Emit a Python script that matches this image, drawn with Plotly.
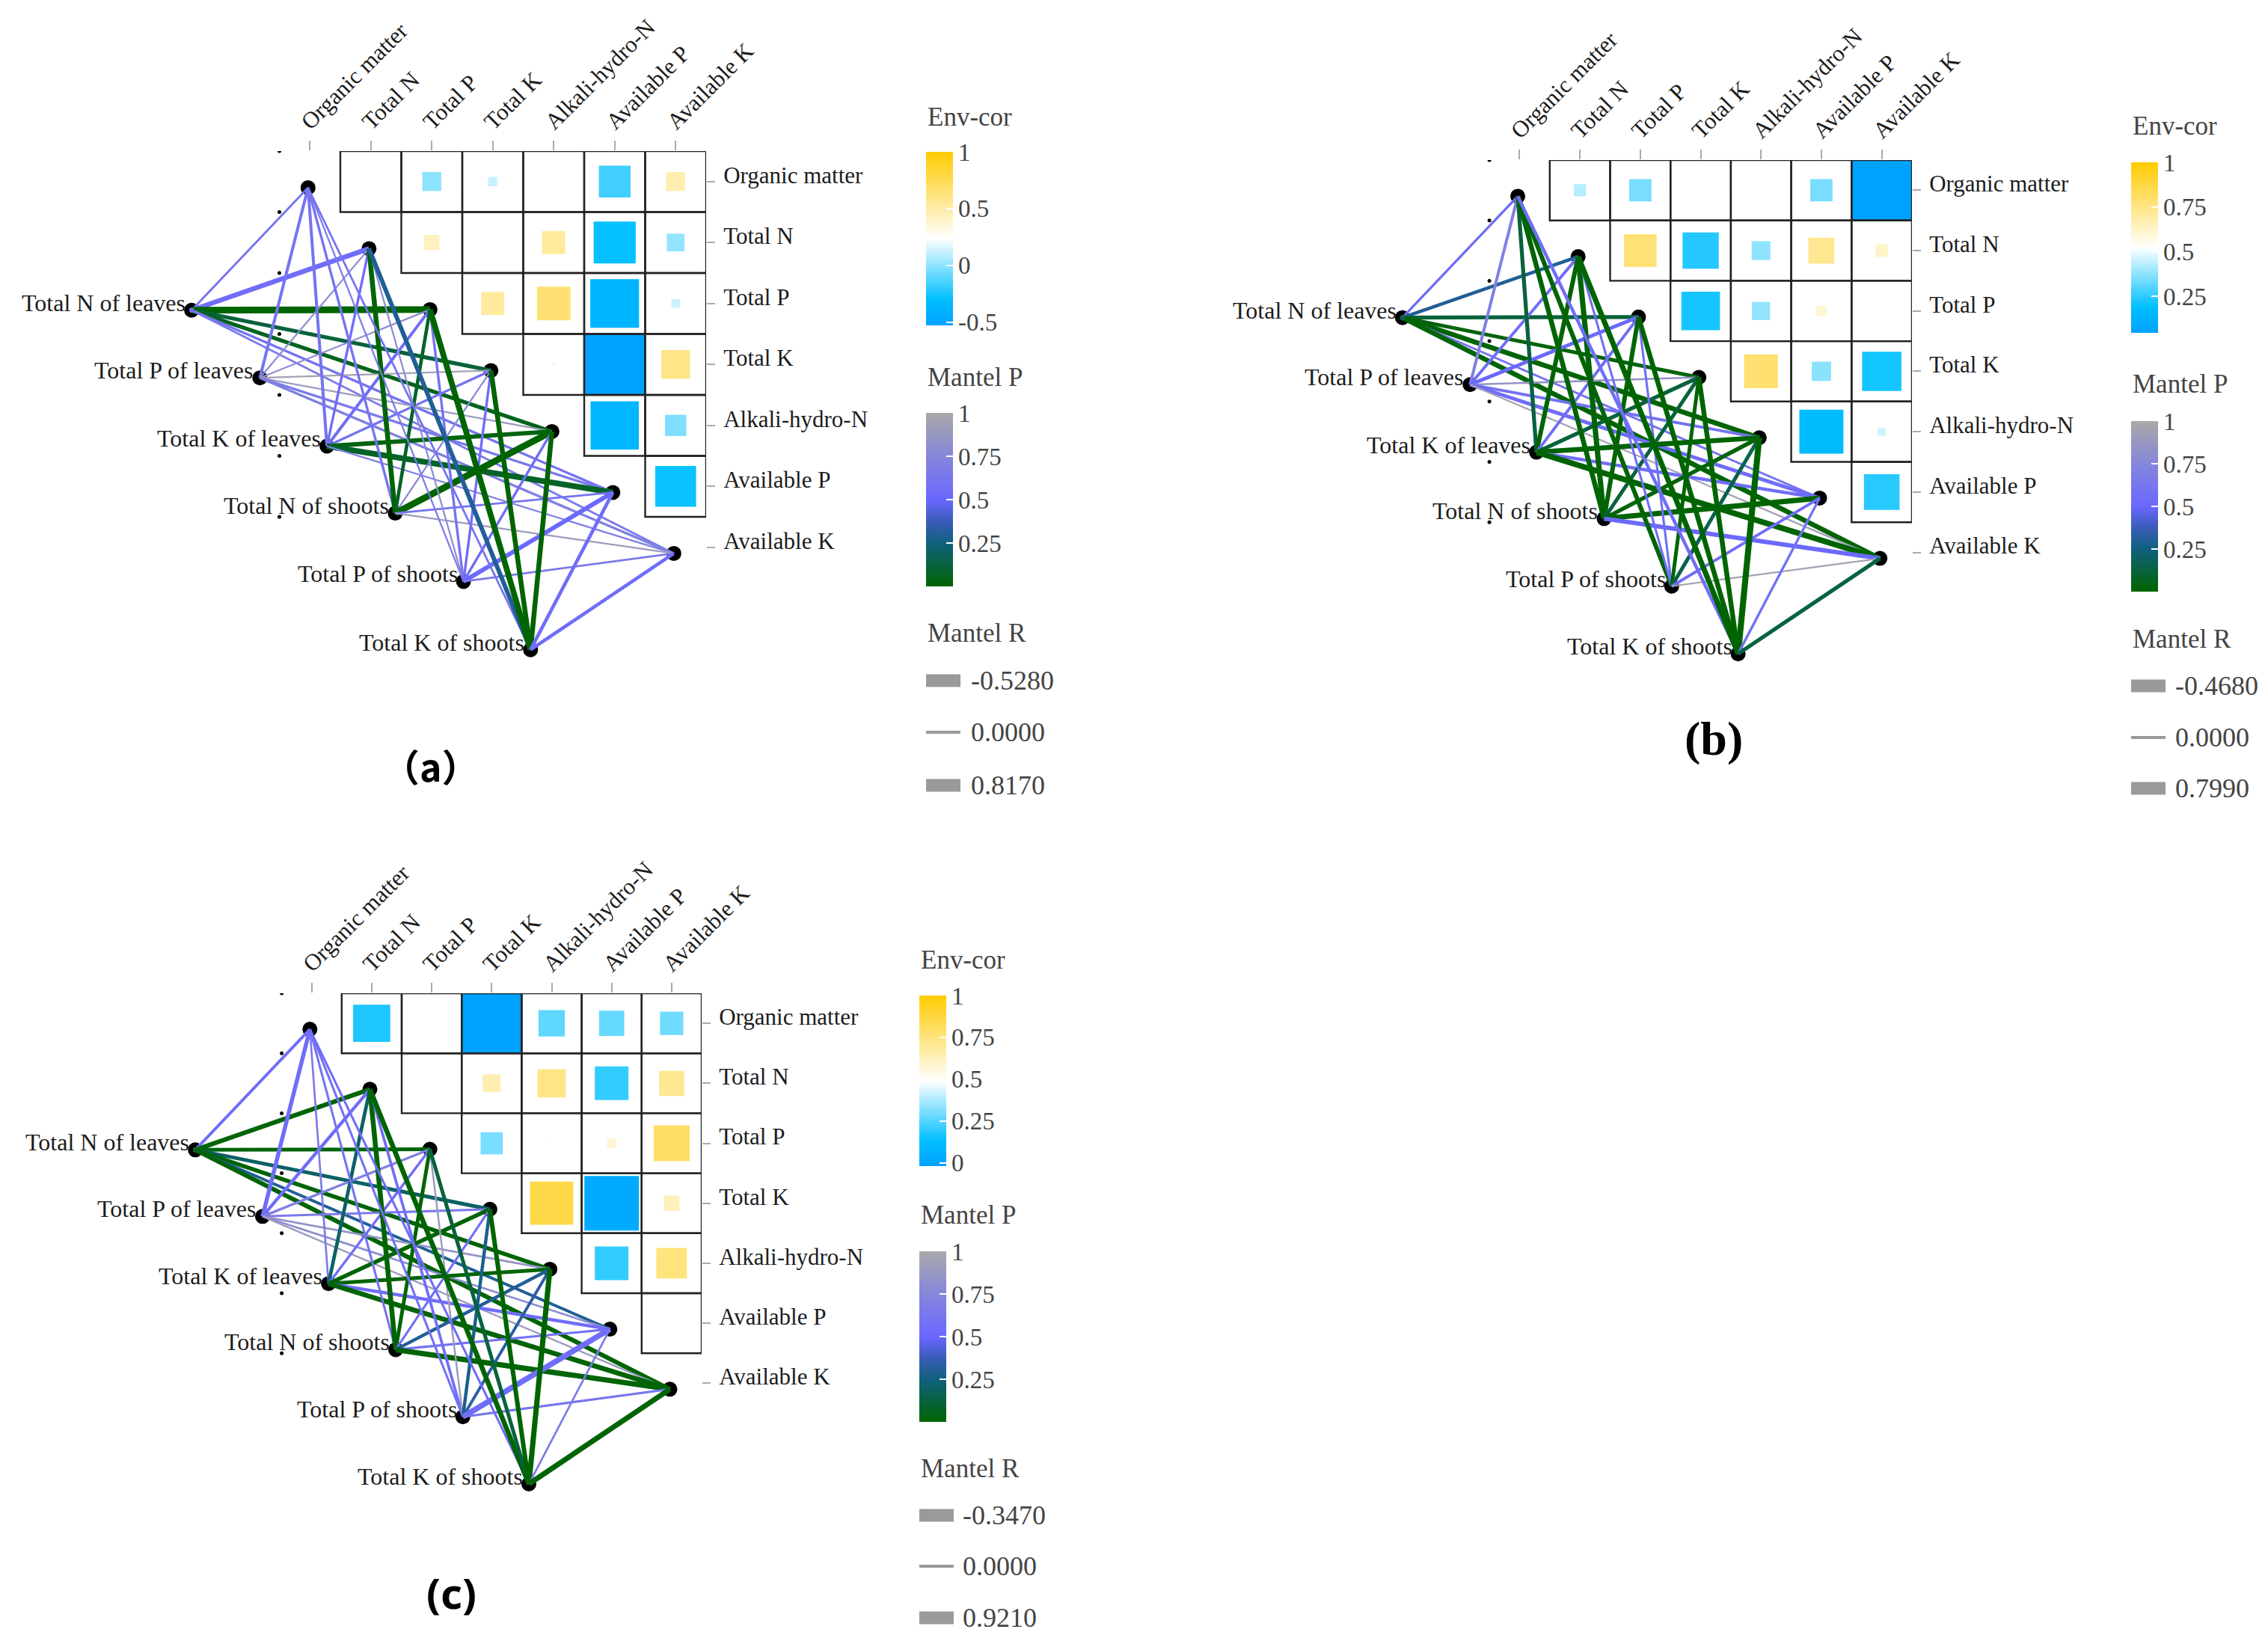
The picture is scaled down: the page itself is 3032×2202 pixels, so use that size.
import plotly.graph_objects as go
from plotly.colors import sample_colorscale

W, H = 3032, 2202
SERIF = "Liberation Serif"

soil_labels = ["Organic matter", "Total N", "Total P", "Total K", "Alkali-hydro-N", "Available P", "Available K"]
plant_labels = ["Total N of leaves", "Total P of leaves", "Total K of leaves",
                "Total N of shoots", "Total P of shoots", "Total K of shoots"]

# Env-cor upper triangle, row by row
env_a = [[.259, -.001, .121, .228, -.161, .473],
         [.427, .251, .526, -.291, .014],
         [.526, .656, -.375, .129],
         [.198, -.528, .595],
         [-.368, -.031],
         [-.276]]
env_b = [[.427, .346, .52, .52, .346, .045],
         [.78, .236, .374, .728, .623],
         [.217, .379, .604, .52],
         [.79, .37, .212],
         [.174, .46],
         [.241]]
env_c = [[.174, .49, -.02, .266, .276, .291],
         [.49, .643, .73, .204, .704],
         [.301, .475, .572, .796],
         [.857, .026, .623],
         [.204, .75],
         [.49]]

# Mantel P: plant row, soil column
p_a = [[.60, .55, .00, .12, .06, .60, .65],
       [.60, .80, .80, .95, .90, .65, .70],
       [.60, .55, .55, .60, .03, .08, .70],
       [.60, .01, .08, .75, .00, .60, .90],
       [.65, .80, .60, .55, .55, .52, .65],
       [.60, .30, .00, .00, .00, .55, .55]]
r_a = [[.10, .45, .68, .33, .33, .15, .09],
       [.21, .04, .04, .04, .04, .15, .15],
       [.21, .15, .21, .15, .39, .56, .04],
       [.15, .45, .27, .04, .68, .09, .04],
       [.04, .04, .15, .15, .15, .39, .09],
       [.09, .39, .56, .45, .45, .27, .27]]
p_b = [[.55, .30, .12, .02, .01, .60, .01],
       [.70, .55, .52, .85, .60, .55, .95],
       [.12, .01, .55, .12, .00, .55, .00],
       [.01, .01, .01, .12, .02, .00, .52],
       [.01, .55, .55, .00, .15, .55, .95],
       [.55, .00, .00, .00, .00, .58, .13]]
r_b = [[.15, .27, .33, .30, .45, .10, .45],
       [.21, .20, .30, .08, .20, .30, .04],
       [.33, .40, .20, .33, .45, .25, .55],
       [.45, .50, .40, .30, .35, .50, .40],
       [.40, .12, .12, .30, .30, .20, .04],
       [.25, .50, .45, .45, .60, .15, .33]]
p_c = [[.55, .01, .02, .20, .01, .30, .01],
       [.55, .55, .70, .65, .85, .80, .90],
       [.65, .20, .55, .01, .01, .55, .01],
       [.60, .01, .01, .55, .30, .58, .01],
       [.58, .55, .90, .28, .33, .55, .62],
       [.55, .00, .12, .00, .00, .65, .01]]
r_c = [[.20, .40, .30, .30, .35, .20, .40],
       [.35, .25, .15, .12, .08, .08, .05],
       [.08, .28, .15, .35, .30, .25, .45],
       [.12, .45, .30, .12, .25, .12, .50],
       [.12, .18, .06, .25, .20, .55, .12],
       [.12, .45, .30, .40, .50, .08, .50]]

# Network layout in the matrix's row/column units
soil_node_col = [-.03, .97, 1.97, 2.97, 3.97, 4.97, 5.97]
soil_node_row = [.10, 1.10, 2.10, 3.10, 4.10, 5.10, 6.10]
plant_node_col = [-1.94, -.82, .28, 1.40, 2.52, 3.62]
plant_node_row = [2.11, 3.22, 4.34, 5.44, 6.56, 7.68]
stray_dot_row = [-.5, .5, 1.5, 2.5, 3.5, 4.5, 5.5]

panels = [
    dict(env=env_a, p=p_a, r=r_a, cmin=-.528, cmax=1, ticks=[-.5, 0, .5, 1], rlabels=["-0.5280", "0.0000", "0.8170"],
         right=944, top=202, cell=81.5, barx=1238, env_top=203, p_top=552, bar_len=232, et=156, pt=504, rt=847,
         items=[910, 979, 1050], labx=1296, tag="（a）", tagx=576, tagy=1023, tagfont="Noto Sans CJK SC", tagsize=50),
    dict(env=env_b, p=p_b, r=r_b, cmin=.045, cmax=1, ticks=[.25, .5, .75, 1], rlabels=["-0.4680", "0.0000", "0.7990"],
         right=2556, top=214, cell=80.7, barx=2849, env_top=217, p_top=563, bar_len=228, et=168, pt=513, rt=854,
         items=[917, 986, 1054], labx=2906, tag="(b)", tagx=2291, tagy=988, tagfont=SERIF, tagsize=64),
    dict(env=env_c, p=p_c, r=r_c, cmin=-.02, cmax=1, ticks=[0, .25, .5, .75, 1], rlabels=["-0.3470", "0.0000", "0.9210"],
         right=938, top=1328, cell=80.2, barx=1229, env_top=1331, p_top=1673, bar_len=228, et=1283, pt=1624, rt=1963,
         items=[2026, 2094, 2163], labx=1285, tag="(c)", tagx=603, tagy=2129, tagfont="Noto Sans", tagsize=56),
]

env_scale = [[0, "#00A2FF"], [.15, "#00BFFF"], [.5, "#FFFFFF"], [.78, "#FFE070"], [1, "#FFCC00"]]
p_scale = [[0, "#006400"], [.25, "#10607E"], [.375, "#3A5CB8"], [.5, "#6A67FF"], [.75, "#8686DC"], [1, "#A9A9A9"]]

TEXT = "#1c1c1c"
LEG = "#444444"
COL_MIN, ROW_MAX = -3.0, 8.5


def fx(px):
    return px / W


def fy(px):
    return 1 - px / H


fig = go.Figure()
shapes, notes = [], []
layout = {}


def legend_title(text, cfg, ypx):
    notes.append(dict(text=text, x=fx(cfg["barx"]), y=fy(ypx), xref="paper", yref="paper", xanchor="left",
                      yanchor="middle", showarrow=False, font=dict(family=SERIF, size=35, color=LEG)))


for n, cfg in enumerate(panels, start=1):
    xa, ya = f"x{n}", f"y{n}"
    c = cfg["cell"]
    x_dom = [fx(cfg["right"] - (6.5 - COL_MIN) * c), fx(cfg["right"])]
    y_dom = [fy(cfg["top"] + (ROW_MAX + .5) * c), fy(cfg["top"])]
    layout[f"xaxis{n}"] = dict(domain=x_dom, range=[COL_MIN, 6.5], anchor=ya, side="top", showgrid=False,
                               zeroline=False, showline=False, ticks="outside", ticklen=13, tickwidth=2,
                               tickcolor="#aaaaaa", tickvals=list(range(7)), ticktext=soil_labels, tickangle=-45,
                               ticklabelstandoff=-4, ticklabelshift=-10,
                               tickfont=dict(family=SERIF, size=31, color=TEXT))
    layout[f"yaxis{n}"] = dict(domain=y_dom, range=[ROW_MAX, -.5], anchor=xa, side="right", showgrid=False,
                               zeroline=False, showline=False, ticks="outside", ticklen=11, tickwidth=2,
                               tickcolor="#aaaaaa", tickvals=list(range(7)), ticktext=soil_labels,
                               ticklabelstandoff=5, ticklabelshift=9,
                               tickfont=dict(family=SERIF, size=31, color=TEXT))

    # grid cells and correlation squares
    mid = (cfg["cmin"] + cfg["cmax"]) / 2
    half = (cfg["cmax"] - cfg["cmin"]) / 2
    sx, sy, sv = [], [], []
    for row, vals in enumerate(cfg["env"]):
        for k, v in enumerate(vals):
            col = row + 1 + k
            sx.append(col); sy.append(row); sv.append(v)
            shapes.append(dict(type="rect", xref=xa, yref=ya, x0=col - .5, x1=col + .5, y0=row - .5, y1=row + .5,
                               line=dict(color="#222222", width=2.4), fillcolor="rgba(0,0,0,0)", layer="above"))
    fig.add_trace(go.Scatter(
        x=sx, y=sy, xaxis=xa, yaxis=ya, mode="markers", hoverinfo="skip", showlegend=False,
        marker=dict(symbol="square", size=[c * abs(v - mid) / half for v in sv], color=sv, opacity=1,
                    colorscale=env_scale, cmin=cfg["cmin"], cmax=cfg["cmax"], line=dict(width=0),
                    colorbar=dict(x=fx(cfg["barx"]), xanchor="left", xpad=0, ypad=0,
                                  y=fy(cfg["env_top"] + cfg["bar_len"] / 2), yanchor="middle",
                                  lenmode="pixels", len=cfg["bar_len"], thicknessmode="pixels", thickness=36,
                                  outlinewidth=0, ticks="inside", ticklen=9, tickcolor="white", tickwidth=2,
                                  tickvals=cfg["ticks"], ticktext=[f"{t:g}" for t in cfg["ticks"]],
                                  tickfont=dict(family=SERIF, size=33, color=LEG)))))
    legend_title("Env-cor", cfg, cfg["et"])

    # stray dots beside the network
    fig.add_trace(go.Scatter(x=[-.5] * len(stray_dot_row), y=stray_dot_row, xaxis=xa, yaxis=ya, mode="markers",
                             hoverinfo="skip", showlegend=False, marker=dict(color="black", size=5)))
    # nodes
    fig.add_trace(go.Scatter(x=soil_node_col + plant_node_col, y=soil_node_row + plant_node_row, xaxis=xa, yaxis=ya,
                             mode="markers", hoverinfo="skip", showlegend=False,
                             marker=dict(color="black", size=20)))
    # Mantel edges
    for i in range(6):
        for j in range(7):
            pv, rv = cfg["p"][i][j], cfg["r"][i][j]
            fig.add_trace(go.Scatter(
                x=[plant_node_col[i], soil_node_col[j]], y=[plant_node_row[i], soil_node_row[j]],
                xaxis=xa, yaxis=ya, mode="lines", hoverinfo="skip", showlegend=False,
                line=dict(color=sample_colorscale(p_scale, pv)[0], width=1.8 + 10.5 * abs(rv))))
    # Mantel P colour bar, carried by zero-size markers on the edge values
    flat_p = [v for rowv in cfg["p"] for v in rowv]
    fig.add_trace(go.Scatter(
        x=[plant_node_col[0]] * len(flat_p), y=[plant_node_row[0]] * len(flat_p), xaxis=xa, yaxis=ya, mode="markers",
        hoverinfo="skip", showlegend=False,
        marker=dict(size=0, color=flat_p, colorscale=p_scale, cmin=0, cmax=1,
                    colorbar=dict(x=fx(cfg["barx"]), xanchor="left", xpad=0, ypad=0,
                                  y=fy(cfg["p_top"] + cfg["bar_len"] / 2), yanchor="middle",
                                  lenmode="pixels", len=cfg["bar_len"], thicknessmode="pixels", thickness=36,
                                  outlinewidth=0, ticks="inside", ticklen=9, tickcolor="white", tickwidth=2,
                                  tickvals=[.25, .5, .75, 1], ticktext=["0.25", "0.5", "0.75", "1"],
                                  tickfont=dict(family=SERIF, size=33, color=LEG)))))
    legend_title("Mantel P", cfg, cfg["pt"])

    # plant labels
    for lab, cx, cy in zip(plant_labels, plant_node_col, plant_node_row):
        notes.append(dict(text=lab, x=cx, y=cy, xref=xa, yref=ya, xanchor="right", yanchor="middle", showarrow=False,
                          xshift=-6, yshift=10, font=dict(family=SERIF, size=32, color=TEXT)))

    # Mantel R legend
    legend_title("Mantel R", cfg, cfg["rt"])
    for lab, yy, th in zip(cfg["rlabels"], cfg["items"], [17, 4, 17]):
        shapes.append(dict(type="rect", xref="paper", yref="paper", x0=fx(cfg["barx"]), x1=fx(cfg["barx"] + 46),
                           y0=fy(yy - th / 2), y1=fy(yy + th / 2), fillcolor="#9a9a9a", line=dict(width=0)))
        notes.append(dict(text=lab, x=fx(cfg["labx"]), y=fy(yy), xref="paper", yref="paper", xanchor="left",
                          yanchor="middle", showarrow=False, font=dict(family=SERIF, size=36, color=LEG)))

    notes.append(dict(text=f"<b>{cfg['tag']}</b>", x=fx(cfg["tagx"]), y=fy(cfg["tagy"]), xref="paper", yref="paper",
                      xanchor="center", yanchor="middle", showarrow=False,
                      font=dict(family=cfg["tagfont"], size=cfg["tagsize"], color="black")))

fig.update_layout(width=W, height=H, margin=dict(l=0, r=0, t=0, b=0, autoexpand=False), paper_bgcolor="white",
                  plot_bgcolor="white", autosize=False, showlegend=False, shapes=shapes, annotations=notes, **layout)
fig.write_html("out.html", config=dict(displayModeBar=False), post_script="document.body.style.margin='0';")
